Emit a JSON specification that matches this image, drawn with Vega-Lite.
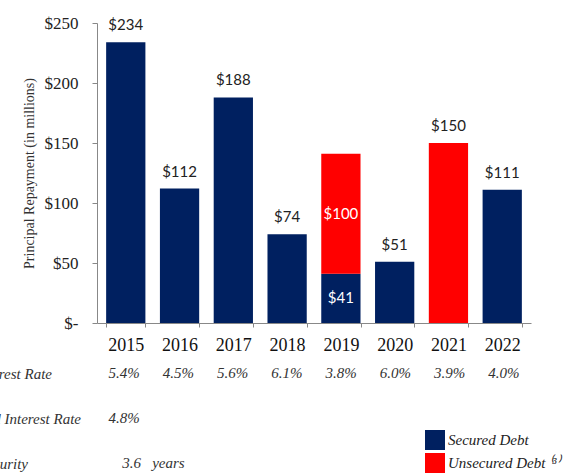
{
  "$schema": "https://vega.github.io/schema/vega-lite/v6.json",
  "padding": {"left": -55, "top": 14, "right": 0, "bottom": 0},
  "autosize": {"type": "pad"},
  "background": "white",
  "config": {"view": {"stroke": null}, "font": "Liberation Serif"},
  "datasets": {
    "debt": [
      {"year": "2015", "type": "Secured Debt", "amount": 234},
      {"year": "2016", "type": "Secured Debt", "amount": 112},
      {"year": "2017", "type": "Secured Debt", "amount": 188},
      {"year": "2018", "type": "Secured Debt", "amount": 74},
      {"year": "2019", "type": "Secured Debt", "amount": 41},
      {"year": "2019", "type": "Unsecured Debt", "amount": 100},
      {"year": "2020", "type": "Secured Debt", "amount": 51},
      {"year": "2021", "type": "Unsecured Debt", "amount": 150},
      {"year": "2022", "type": "Secured Debt", "amount": 111}
    ],
    "table": [
      {"row": "Avg. Interest Rate", "year": "2015", "value": "5.4%"},
      {"row": "Avg. Interest Rate", "year": "2016", "value": "4.5%"},
      {"row": "Avg. Interest Rate", "year": "2017", "value": "5.6%"},
      {"row": "Avg. Interest Rate", "year": "2018", "value": "6.1%"},
      {"row": "Avg. Interest Rate", "year": "2019", "value": "3.8%"},
      {"row": "Avg. Interest Rate", "year": "2020", "value": "6.0%"},
      {"row": "Avg. Interest Rate", "year": "2021", "value": "3.9%"},
      {"row": "Avg. Interest Rate", "year": "2022", "value": "4.0%"},
      {"row": "Weighted Interest Rate", "year": "2015", "value": "4.8%"},
      {"row": "Avg. Maturity", "year": "2015", "value": "3.6\u00a0\u00a0 years"}
    ]
  },
  "spacing": 50,
  "bounds": "flush",
  "vconcat": [
    {
      "width": 434,
      "height": 300,
      "data": {"name": "debt"},
      "layer": [
        {
          "mark": {"type": "bar"},
          "encoding": {
            "x": {
              "field": "year", "type": "ordinal",
              "scale": {"paddingInner": 0.27, "paddingOuter": 0.17},
              "axis": {
                "title": null, "labelAngle": 0, "labelFont": "Liberation Serif", "labelFontSize": 18,
                "labelColor": "#111", "tickBand": "extent", "tickSize": 4, "tickColor": "#888",
                "domainColor": "#888", "labelPadding": 9
              }
            },
            "y": {
              "field": "amount", "type": "quantitative", "stack": "zero",
              "scale": {"domain": [0, 250], "nice": false},
              "axis": {
                "title": "Principal Repayment (in millions)", "titleFont": "Liberation Serif",
                "titleFontSize": 14, "titleFontWeight": "normal", "titleColor": "#333", "titlePadding": 8,
                "values": [0, 50, 100, 150, 200, 250], "grid": false,
                "labelExpr": "datum.value == 0 ? '$-\u00a0\u00a0\u00a0\u00a0\u00a0' : '$' + datum.value",
                "labelFont": "Liberation Serif", "labelFontSize": 17, "labelColor": "#222",
                "tickSize": 5, "tickColor": "#888", "domainColor": "#888", "labelPadding": 14
              }
            },
            "order": {"field": "type", "type": "nominal", "sort": "ascending"},
            "color": {
              "field": "type", "type": "nominal",
              "scale": {"domain": ["Secured Debt", "Unsecured Debt"], "range": ["#002060", "#FF0000"]},
              "legend": {
                "title": null, "orient": "none", "legendX": 328, "legendY": 407,
                "direction": "vertical", "symbolType": "square", "symbolSize": 400,
                "symbolStrokeWidth": 0, "labelFont": "Liberation Serif", "labelFontStyle": "italic",
                "labelFontSize": 15, "labelColor": "#222", "rowPadding": 3, "labelOffset": 3,
                "labelExpr": "datum.label == 'Unsecured Debt' ? 'Unsecured Debt  \u207d\u00b3\u207e' : datum.label"
              }
            }
          }
        },
        {
          "transform": [{"filter": "datum.year != '2019'"}],
          "mark": {"type": "text", "font": "Lato", "fontSize": 15, "dy": -17, "color": "#222"},
          "encoding": {
            "x": {"field": "year", "type": "ordinal"},
            "y": {"field": "amount", "type": "quantitative"},
            "text": {"field": "amount", "type": "quantitative", "format": "$,.0f"}
          }
        },
        {
          "transform": [
            {"filter": "datum.year == '2019'"},
            {"stack": "amount", "groupby": ["year"], "sort": [{"field": "type", "order": "ascending"}], "as": ["y0", "y1"]},
            {"fold": ["y0", "y1"]},
            {"aggregate": [{"op": "mean", "field": "value", "as": "mid"}], "groupby": ["year", "type", "amount"]}
          ],
          "mark": {"type": "text", "font": "Lato", "fontSize": 15, "color": "white"},
          "encoding": {
            "x": {"field": "year", "type": "ordinal"},
            "y": {"field": "mid", "type": "quantitative"},
            "text": {"field": "amount", "type": "quantitative", "format": "$,.0f"}
          }
        }
      ]
    },
    {
      "width": 434,
      "height": 90,
      "data": {"name": "table"},
      "layer": [
        {
          "transform": [{"filter": "datum.row != 'Avg. Maturity'"}],
          "mark": {"type": "text", "font": "Liberation Serif", "fontStyle": "italic", "fontSize": 15, "color": "#333"},
          "encoding": {
            "x": {"field": "year", "type": "ordinal", "scale": {"paddingInner": 0.27, "paddingOuter": 0.17}, "axis": null},
            "y": {
              "field": "row", "type": "ordinal",
              "scale": {"type": "point", "padding": 0, "domain": ["Avg. Interest Rate", "Weighted Interest Rate", "Avg. Maturity"]},
              "axis": {
                "title": null, "ticks": false, "domain": false, "labelAlign": "left", "labelPadding": 152,
                "labelFont": "Liberation Serif", "labelFontStyle": "italic", "labelFontSize": 15,
                "labelColor": "#333", "labelLimit": 400
              }
            },
            "text": {"field": "value", "type": "nominal"}
          }
        },
        {
          "transform": [{"filter": "datum.row == 'Avg. Maturity'"}],
          "mark": {"type": "text", "font": "Liberation Serif", "fontStyle": "italic", "fontSize": 15, "color": "#333", "align": "left", "dx": -2},
          "encoding": {
            "x": {"field": "year", "type": "ordinal"},
            "y": {"field": "row", "type": "ordinal", "scale": {"type": "point", "padding": 0, "domain": ["Avg. Interest Rate", "Weighted Interest Rate", "Avg. Maturity"]}},
            "text": {"field": "value", "type": "nominal"}
          }
        }
      ]
    }
  ]
}
